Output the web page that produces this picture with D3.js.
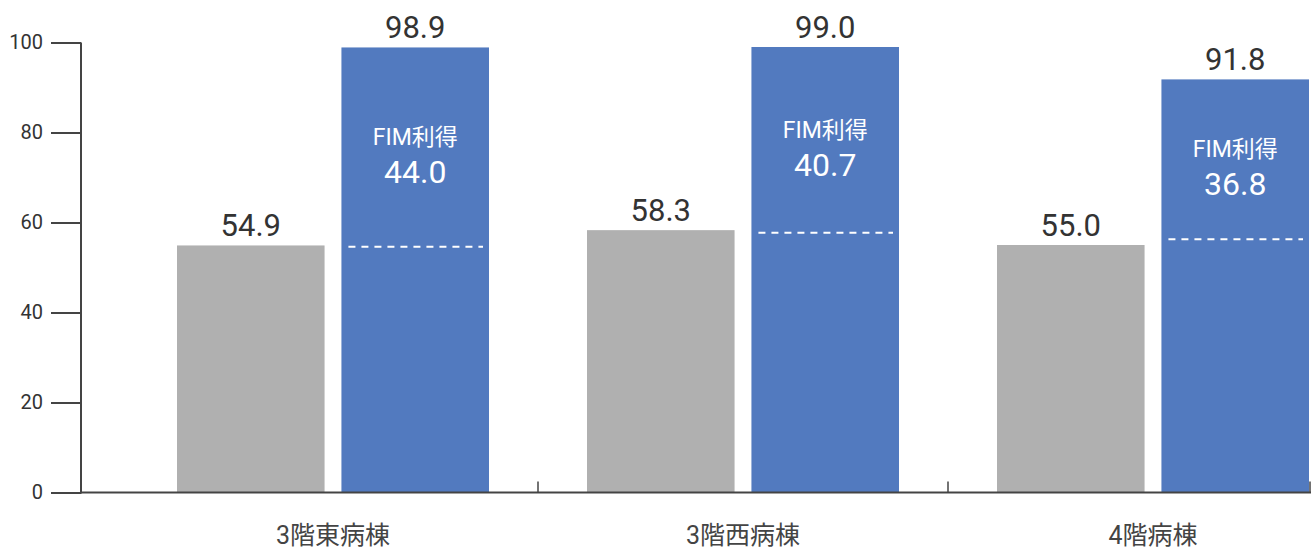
<!DOCTYPE html>
<html><head><meta charset="utf-8">
<script src="https://cdn.jsdelivr.net/npm/d3@7/dist/d3.min.js"></script>
<style>
html,body{margin:0;padding:0;background:#fff;}
svg{display:block;font-family:Roboto,"Noto Sans CJK JP",sans-serif;}
</style></head><body>
<svg id="chart" width="1312" height="548"></svg>
<script>
const categories = ["3階東病棟", "3階西病棟", "4階病棟"];
const admission = [54.9, 58.3, 55.0];     // gray bars
const discharge = [98.9, 99.0, 91.8];     // blue bars
const fimGain = [44.0, 40.7, 36.8];
const dashLevel = [54.6, 57.7, 56.3];     // dashed line levels as drawn
const yTicks = [0, 20, 40, 60, 80, 100];
const gainLabel = "FIM利得";

const svg = d3.select("#chart");
const y = d3.scaleLinear().domain([0, 100]).range([492.5, 42.5]);
const x = d3.scaleBand().domain(categories).range([128, 1358]).paddingInner(0).paddingOuter(0);
const sub = d3.scaleBand().domain(["a", "b"]).range([49, 361]).paddingInner(16 / 156);

const axisColor = "#444";
const textColor = "#333";
const gray = "#b0b0b0";
const blue = "#527abf";

// bars
const g = svg.append("g");
categories.forEach((c, i) => {
  const x0 = x(c);
  const gx = x0 + sub("a"), bx = x0 + sub("b"), w = sub.bandwidth();
  g.append("rect").attr("x", gx).attr("y", y(admission[i])).attr("width", w)
    .attr("height", y(0) - y(admission[i])).attr("fill", gray);
  g.append("rect").attr("x", bx).attr("y", y(discharge[i])).attr("width", w)
    .attr("height", y(0) - y(discharge[i])).attr("fill", blue);
  // value labels
  g.append("text").attr("x", gx + w / 2).attr("y", y(admission[i]) - 9)
    .attr("text-anchor", "middle").attr("font-size", 31).attr("fill", textColor)
    .text(admission[i].toFixed(1));
  g.append("text").attr("x", bx + w / 2).attr("y", y(discharge[i]) - 9)
    .attr("text-anchor", "middle").attr("font-size", 31).attr("fill", textColor)
    .text(discharge[i].toFixed(1));
  // dashed line
  g.append("line").attr("x1", bx + 7).attr("x2", bx + w - 6)
    .attr("y1", y(dashLevel[i])).attr("y2", y(dashLevel[i]))
    .attr("stroke", "#fff").attr("stroke-width", 2).attr("stroke-dasharray", "7,6");
  // gain text
  const mid = (y(discharge[i]) + y(dashLevel[i])) / 2 + 8;
  g.append("text").attr("x", bx + w / 2).attr("y", mid - 10)
    .attr("text-anchor", "middle").attr("font-size", 23).attr("fill", "#fff")
    .text(gainLabel);
  g.append("text").attr("x", bx + w / 2).attr("y", mid + 28)
    .attr("text-anchor", "middle").attr("font-size", 32).attr("fill", "#fff")
    .text(fimGain[i].toFixed(1));
});

// y axis
const yAxis = d3.axisLeft(y).tickValues(yTicks).tickSize(30).tickPadding(8).tickFormat(d3.format("d"));
const ya = svg.append("g").attr("transform", "translate(81,0)").call(yAxis);
ya.select(".domain").attr("stroke", axisColor).attr("stroke-width", 2).attr("d", `M0,${y(100)}V${y(0)+1}`);
ya.selectAll(".tick line").attr("stroke", axisColor).attr("stroke-width", 2);
ya.selectAll(".tick text").attr("font-size", 20).attr("fill", textColor).attr("font-family", "Roboto,sans-serif");

// x axis
const xa = svg.append("g").attr("transform", `translate(0,${y(0)})`);
xa.append("line").attr("x1", 80).attr("x2", 1311).attr("y1", 0).attr("y2", 0)
  .attr("stroke", axisColor).attr("stroke-width", 2);
const tickXs = categories.map(c => x(c) + x.bandwidth()).slice(0, 2).concat([1310]);
tickXs.forEach(tx => {
  xa.append("line").attr("x1", tx).attr("x2", tx).attr("y1", 0).attr("y2", -11)
    .attr("stroke", axisColor).attr("stroke-width", 1.5);
});
categories.forEach(c => {
  xa.append("text").attr("x", x(c) + x.bandwidth() / 2).attr("y", 51)
    .attr("text-anchor", "middle").attr("font-size", 25).attr("fill", "#444")
    .text(c);
});
</script>
</body></html>
